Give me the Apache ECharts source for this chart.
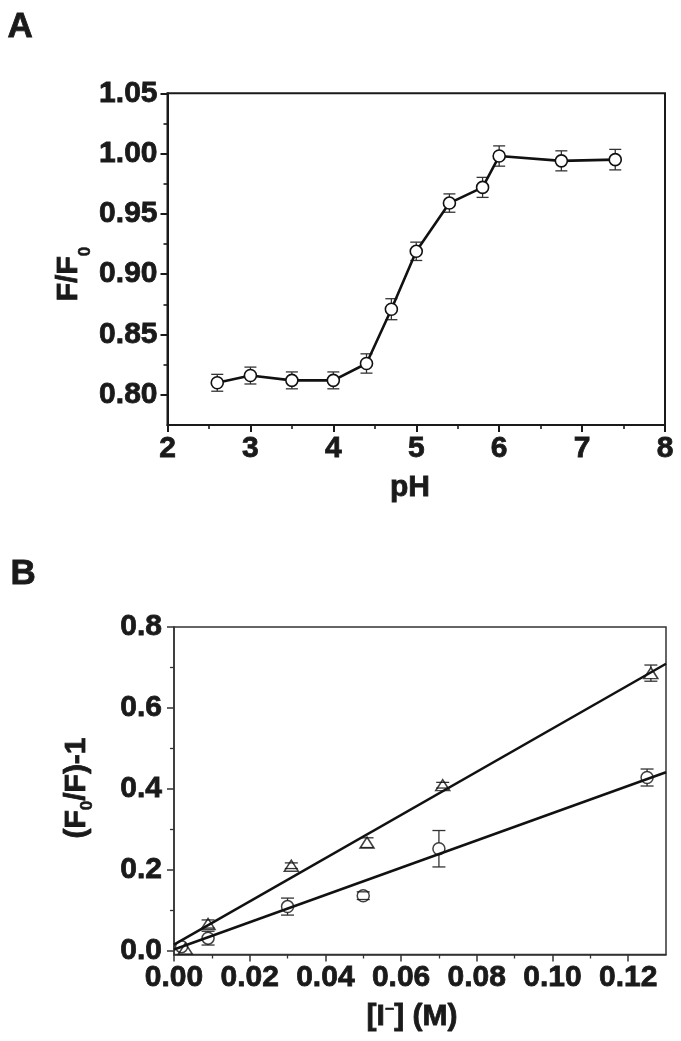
<!DOCTYPE html>
<html><head><meta charset="utf-8">
<script src="https://cdn.jsdelivr.net/npm/echarts@6/dist/echarts.min.js"></script>
<style>html,body{margin:0;padding:0;background:#fff}#c{width:681px;height:1041px}</style>
</head><body><div id="c"></div>
<script>
// ---- Panel A data ----
const phValues = [2.6, 3.0, 3.5, 4.0, 4.4, 4.7, 5.0, 5.4, 5.8, 6.0, 6.75, 7.4];
const ratioA   = [0.810, 0.816, 0.812, 0.812, 0.826, 0.871, 0.919, 0.959, 0.972, 0.998, 0.994, 0.995];
const errA     = [0.007, 0.007, 0.007, 0.007, 0.008, 0.0087, 0.0076, 0.0076, 0.0083, 0.0084, 0.0083, 0.0085];
const ticksAX = [2, 3, 4, 5, 6, 7, 8];
const minorAX = [2.5, 3.5, 4.5, 5.5, 6.5, 7.5];
const ticksAY = [0.80, 0.85, 0.90, 0.95, 1.00, 1.05];
const minorAY = [0.825, 0.875, 0.925, 0.975, 1.025];
// ---- Panel B data ----
const iodideCircle   = [0.002, 0.009, 0.030, 0.050, 0.070, 0.125];
const quenchCircle   = [0.010, 0.031, 0.109, 0.136, 0.252, 0.428];
const errCircle      = [0.000, 0.017, 0.021, 0.0095, 0.045, 0.021];
const iodideTriangle = [0.003, 0.009, 0.031, 0.051, 0.071, 0.126];
const quenchTriangle = [0.005, 0.066, 0.210, 0.267, 0.409, 0.686];
const errTriangle    = [0.000, 0.010, 0.007, 0.012, 0.007, 0.020];
const fitTriangle = [0.015, 5.34];   // [intercept, slope]
const fitCircle   = [0.003, 3.37];
const fitRangeX = [0, 0.13];
const ticksBX = [0, 0.02, 0.04, 0.06, 0.08, 0.10, 0.12];
const minorBX = [0.01, 0.03, 0.05, 0.07, 0.09, 0.11];
const ticksBY = [0, 0.2, 0.4, 0.6, 0.8];
const minorBY = [0.1, 0.3, 0.5, 0.7];

const FF = "'Liberation Sans', Arial, Helvetica, sans-serif";
const TXT = '#1a1a1a';
const SW = 0.8;
const lab = (m, d) => ({fontSize: 30, fontWeight: 'bold', fontFamily: FF, color: TXT, margin: m,
  textBorderColor: TXT, textBorderWidth: SW, formatter: v => (+v).toFixed(d)});

function fitLine(fit) { return fitRangeX.map(x => [x, fit[0] + fit[1] * x]); }

function makeErr(gap, capHalf) {
  return function (params, api) {
    const x = api.value(0), y = api.value(1), e = api.value(2);
    if (!e) return {type: 'group', children: []};
    const c = api.coord([x, y]);
    const hi = api.coord([x, y + e]);
    const lo = api.coord([x, y - e]);
    const st = {stroke: '#333', lineWidth: 1.3};
    const ch = [];
    if (c[1] - hi[1] > gap) ch.push({type: 'line', shape: {x1: c[0], y1: c[1] - gap, x2: c[0], y2: hi[1]}, style: st});
    if (lo[1] - c[1] > gap) ch.push({type: 'line', shape: {x1: c[0], y1: c[1] + gap, x2: c[0], y2: lo[1]}, style: st});
    ch.push({type: 'line', shape: {x1: c[0] - capHalf, y1: hi[1], x2: c[0] + capHalf, y2: hi[1]}, style: st});
    ch.push({type: 'line', shape: {x1: c[0] - capHalf, y1: lo[1], x2: c[0] + capHalf, y2: lo[1]}, style: st});
    return {type: 'group', children: ch};
  };
}

function mainAxis(grid, min, max, ticks, d, m, color, w, extra) {
  return Object.assign({
    type: 'value', gridIndex: grid, min: min, max: max,
    axisLine: {show: true, onZero: false, lineStyle: {color: color, width: w}},
    axisTick: {show: true, length: 7, customValues: ticks, lineStyle: {color: color, width: w}},
    axisLabel: Object.assign(lab(m, d), {customValues: ticks}),
    splitLine: {show: false}
  }, extra || {});
}
function minorAxis(grid, min, max, ticks, color, w, extra) {
  return Object.assign({
    type: 'value', gridIndex: grid, min: min, max: max,
    axisLine: {show: false, onZero: false},
    axisTick: {show: true, length: 4, customValues: ticks, lineStyle: {color: color, width: w}},
    axisLabel: {show: false},
    splitLine: {show: false}
  }, extra || {});
}
const tStyle = (size, sw) => ({fontSize: size, fontWeight: 'bold', fontFamily: FF, fill: TXT, stroke: TXT, lineWidth: sw});

const chart = echarts.init(document.getElementById('c'), null, {renderer: 'canvas'});
chart.setOption({
  animation: false,
  backgroundColor: '#fff',
  grid: [
    {left: 167.5, top: 93.3, width: 497.5, height: 331.7, show: true, borderColor: '#1a1a1a', borderWidth: 2, backgroundColor: 'transparent', outerBoundsMode: 'none'},
    {left: 174, top: 627, width: 492, height: 327.5, show: true, borderColor: '#333', borderWidth: 1.5, backgroundColor: 'transparent', outerBoundsMode: 'none'}
  ],
  xAxis: [
    mainAxis(0, 2, 8, ticksAX, 0, 9, '#1a1a1a', 2, {position: 'bottom'}),
    minorAxis(0, 2, 8, minorAX, '#1a1a1a', 1.6, {position: 'bottom'}),
    mainAxis(1, 0, 0.13, ticksBX, 2, 8, '#333', 1.5, {position: 'bottom'}),
    minorAxis(1, 0, 0.13, minorBX, '#333', 1.3, {position: 'bottom'})
  ],
  yAxis: [
    mainAxis(0, 0.775, 1.05, ticksAY, 2, 10, '#1a1a1a', 2, {position: 'left'}),
    minorAxis(0, 0.775, 1.05, minorAY, '#1a1a1a', 1.6, {position: 'left'}),
    mainAxis(1, -0.0094, 0.8, ticksBY, 1, 12, '#333', 1.5, {position: 'left'}),
    minorAxis(1, -0.0094, 0.8, minorBY, '#333', 1.3, {position: 'left'})
  ],
  series: [
    {type: 'custom', xAxisIndex: 0, yAxisIndex: 0, z: 2, renderItem: makeErr(5.5, 6),
     encode: {x: 0, y: 1}, data: phValues.map((x, i) => [x, ratioA[i], errA[i]])},
    {type: 'line', xAxisIndex: 0, yAxisIndex: 0, z: 3, symbol: 'circle', symbolSize: 12,
     itemStyle: {color: '#fff', borderColor: '#111', borderWidth: 1.6},
     lineStyle: {color: '#111', width: 2.6},
     data: phValues.map((x, i) => [x, ratioA[i]])},
    {type: 'custom', xAxisIndex: 2, yAxisIndex: 2, z: 2, renderItem: makeErr(6, 6.5),
     encode: {x: 0, y: 1}, data: iodideCircle.map((x, i) => [x, quenchCircle[i], errCircle[i]])},
    {type: 'custom', xAxisIndex: 2, yAxisIndex: 2, z: 2, renderItem: makeErr(5, 6.5),
     encode: {x: 0, y: 1}, data: iodideTriangle.map((x, i) => [x, quenchTriangle[i], errTriangle[i]])},
    {type: 'scatter', xAxisIndex: 2, yAxisIndex: 2, z: 3, symbol: 'circle', symbolSize: 12,
     itemStyle: {color: 'rgba(255,255,255,0)', borderColor: '#111', borderWidth: 1.5},
     data: iodideCircle.map((x, i) => [x, quenchCircle[i]])},
    {type: 'scatter', xAxisIndex: 2, yAxisIndex: 2, z: 3, symbol: 'triangle', symbolSize: [14, 11],
     itemStyle: {color: 'rgba(255,255,255,0)', borderColor: '#111', borderWidth: 1.5},
     data: iodideTriangle.map((x, i) => [x, quenchTriangle[i]])},
    {type: 'line', xAxisIndex: 2, yAxisIndex: 2, z: 4, symbol: 'none', lineStyle: {color: '#111', width: 2.5},
     data: fitLine(fitTriangle)},
    {type: 'line', xAxisIndex: 2, yAxisIndex: 2, z: 4, symbol: 'none', lineStyle: {color: '#111', width: 2.5},
     data: fitLine(fitCircle)}
  ],
  graphic: [
    {type: 'text', left: 7, top: 9, style: Object.assign({text: 'A'}, tStyle(35, SW))},
    {type: 'text', left: 10, top: 556, style: Object.assign({text: 'B'}, tStyle(35, SW))},
    {type: 'text', x: 410, y: 488, style: Object.assign({text: 'pH', align: 'center', verticalAlign: 'middle'}, tStyle(30, SW))},
    {type: 'text', x: 69, y: 274, rotation: Math.PI / 2,
     style: {text: '{m|F/F}{s|0}', align: 'center', verticalAlign: 'middle', fill: TXT,
       rich: {m: Object.assign({lineHeight: 50, verticalAlign: 'middle'}, tStyle(30, SW)),
              s: Object.assign({lineHeight: 17, verticalAlign: 'bottom'}, tStyle(17, 0.5))}}},
    {type: 'text', x: 77, y: 788, rotation: Math.PI / 2,
     style: {text: '{m|(F}{s|0}{m|/F)-1}', align: 'center', verticalAlign: 'middle', fill: TXT,
       rich: {m: Object.assign({lineHeight: 38, verticalAlign: 'middle'}, tStyle(30, SW)),
              s: Object.assign({lineHeight: 17, verticalAlign: 'bottom'}, tStyle(17, 0.5))}}},
    {type: 'text', x: 412, y: 1017,
     style: {text: '{m|[I}{p|−}{m|] (M)}', align: 'center', verticalAlign: 'middle', fill: TXT,
       rich: {m: Object.assign({lineHeight: 30, verticalAlign: 'middle'}, tStyle(30, SW)),
              p: Object.assign({lineHeight: 8, verticalAlign: 'top'}, tStyle(16, 0.5))}}}
  ]
});
</script>
</body></html>
